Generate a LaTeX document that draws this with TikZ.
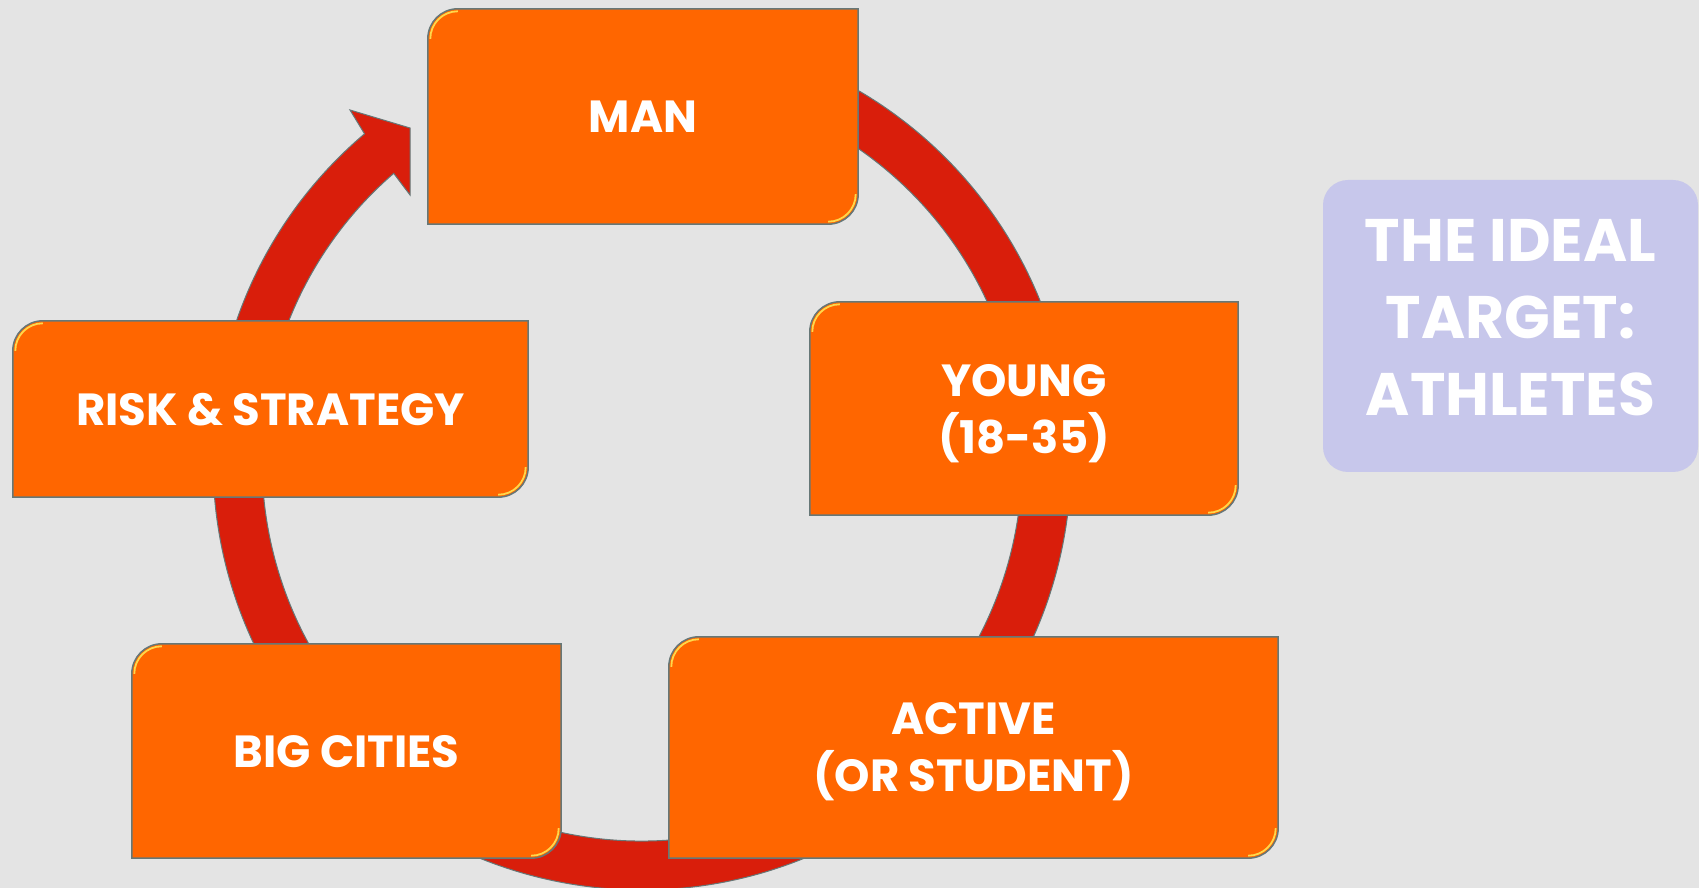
\documentclass[tikz,border=0pt]{standalone}
\usepackage{fontspec}
\setmainfont{Poppins}
\definecolor{bggray}{HTML}{E4E4E4}
\definecolor{boxorange}{HTML}{FF6600}
\definecolor{ringred}{HTML}{D91E0B}
\definecolor{edgegray}{HTML}{667777}
\definecolor{glow}{HTML}{FFD84A}
\definecolor{idealblue}{HTML}{C7C7EB}
\pgfdeclarelayer{back}
\pgfdeclarelayer{ring}
\pgfdeclarelayer{boxes}
\pgfsetlayers{back,ring,boxes,main}

\begin{document}
\begin{tikzpicture}[x=1pt,y=1pt,
    stage/.style={inner sep=0pt,text=white,align=center,text depth=0pt,
        font=\fontsize{45}{57}\selectfont\bfseries},
    boxedge/.style={fill=boxorange,draw=edgegray,line width=1.5pt},
    shine/.style={draw=glow,line width=1.8pt},
    idealbox/.style={fill=idealblue,rounded corners=25pt,inner sep=0pt,text depth=18pt,
        text=white,align=center,font=\fontsize{60}{77}\selectfont\bfseries}]

    \begin{pgfonlayer}{back}
    \fill[bggray] (0,0) rectangle (1699,888);
    \end{pgfonlayer}
    \useasboundingbox (0,0) rectangle (1699,888);

    \node[stage,minimum width=430pt,minimum height=215pt] (man) at (643,771.5) {MAN};
    \node[stage,minimum width=428pt,minimum height=213pt] (young) at (1024,479.5) {YOUNG\\(18-35)};
    \node[stage,minimum width=609pt,minimum height=221pt] (active) at (973.5,140.5) {ACTIVE\\(OR STUDENT)};
    \node[stage,minimum width=429pt,minimum height=214pt] (cities) at (346.5,137) {BIG CITIES};
    \node[stage,minimum width=515pt,minimum height=176pt] (risk) at (270.5,479) {RISK \& STRATEGY};

    \node[idealbox,minimum width=375pt,minimum height=292pt] (ideal) at (1510.5,562) {THE IDEAL\\TARGET:\\ATHLETES};

    \begin{pgfonlayer}{ring}
    \begin{scope}[shift={(642,427)}]
    \filldraw[fill=ringred,draw=edgegray,line width=1pt]
        (130.3:429) arc[start angle=130.3,end angle=460,radius=429]
        -- (460:380) arc[start angle=460,end angle=130.8,radius=380]
        -- (-232,266) -- (-232,333) -- (-292,351) -- cycle;
    \end{scope}
    \end{pgfonlayer}

    \begin{pgfonlayer}{boxes}
    \foreach \b in {man,young,active,cities,risk}{
        \draw[boxedge] ([yshift=-30pt]\b.north west) arc[start angle=180,end angle=90,radius=30pt]
            -- (\b.north east) -- ([yshift=30pt]\b.south east)
            arc[start angle=0,end angle=-90,radius=30pt] -- (\b.south west) -- cycle;
        \draw[shine] ([xshift=2.5pt,yshift=-30pt]\b.north west) arc[start angle=180,end angle=90,radius=27.5pt];
        \draw[shine] ([xshift=-2.5pt,yshift=30pt]\b.south east) arc[start angle=0,end angle=-90,radius=27.5pt];
    }
    \end{pgfonlayer}

\end{tikzpicture}
\end{document}
